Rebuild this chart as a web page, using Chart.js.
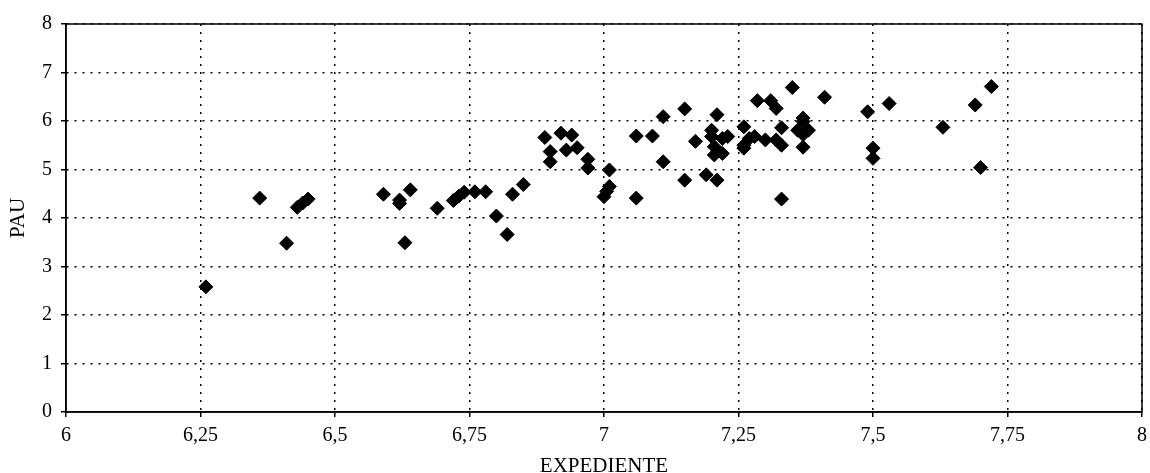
<!DOCTYPE html>
<html lang="es">
<head>
<meta charset="utf-8">
<title>PAU frente a EXPEDIENTE</title>
<script src="https://cdn.jsdelivr.net/npm/chart.js@4.4.1/dist/chart.umd.min.js"></script>
<style>
    body { margin: 0; background: #fff; }
    #contenedor { width: 1150px; height: 473px; }
</style>
</head>
<body>
<div id="contenedor"><canvas id="grafico"></canvas></div>
<script>
        // ============ DATOS ============
        const expediente = [
            6.26, 6.36, 6.41, 6.43, 6.44, 6.45, 6.59, 6.62, 6.62, 6.63,
            6.64, 6.69, 6.72, 6.73, 6.74, 6.76, 6.78, 6.80, 6.82, 6.83,
            6.85, 6.89, 6.90, 6.90, 6.92, 6.94, 6.93, 6.95, 6.97, 6.97,
            7.01, 7.01, 7.005, 7.00, 7.06, 7.09, 7.11, 7.06, 7.11, 7.15,
            7.15, 7.17, 7.19, 7.21, 7.21, 7.20, 7.20, 7.22, 7.23, 7.205,
            7.205, 7.22, 7.26, 7.26, 7.27, 7.28, 7.30, 7.32, 7.33, 7.26,
            7.285, 7.31, 7.32, 7.33, 7.33, 7.35, 7.37, 7.37, 7.36, 7.38,
            7.37, 7.37, 7.41, 7.49, 7.53, 7.50, 7.50, 7.63, 7.69, 7.72,
            7.70
        ];
        const pau = [
            2.58, 4.41, 3.48, 4.22, 4.31, 4.39, 4.49, 4.37, 4.30, 3.49,
            4.58, 4.20, 4.36, 4.45, 4.53, 4.54, 4.54, 4.04, 3.66, 4.49,
            4.69, 5.66, 5.37, 5.16, 5.75, 5.71, 5.40, 5.45, 5.21, 5.03,
            4.99, 4.65, 4.55, 4.44, 5.69, 5.69, 6.09, 4.41, 5.16, 6.25,
            4.78, 5.58, 4.89, 4.78, 6.13, 5.81, 5.68, 5.64, 5.68, 5.47,
            5.30, 5.33, 5.88, 5.50, 5.64, 5.68, 5.61, 5.61, 5.50, 5.44,
            6.42, 6.42, 6.26, 5.86, 4.39, 6.69, 6.06, 5.99, 5.81, 5.81,
            5.46, 5.72, 6.49, 6.19, 6.36, 5.44, 5.23, 5.87, 6.33, 6.71,
            5.04
        ];
        const ticksX = [6, 6.25, 6.5, 6.75, 7, 7.25, 7.5, 7.75, 8];
        const ticksY = [0, 1, 2, 3, 4, 5, 6, 7, 8];

        const puntos = expediente.map((x, i) => ({ x: x, y: pau[i] }));

        // decimales con coma
        const conComa = v => String(v).replace('.', ',');

        // marco solido alrededor del area
        const marco = {
            id: 'marco',
            afterDraw(chart) {
                const a = chart.chartArea;
                const ctx = chart.ctx;
                ctx.save();
                ctx.strokeStyle = '#000';
                ctx.lineWidth = 1.5;
                ctx.strokeRect(a.left, a.top, a.right - a.left, a.bottom - a.top);
                ctx.restore();
            }
        };

        const fuente = { family: '"Liberation Serif", "Times New Roman", serif', size: 20 };
        const rejilla = { color: '#000', lineWidth: 1.5, tickLength: 5, tickBorderDash: [] };

        // ============ GRAFICO ============
        const ctx = document.getElementById('grafico').getContext('2d');
        const chart = new Chart(ctx, {
            type: 'scatter',
            data: {
                datasets: [{
                    label: 'PAU',
                    data: puntos,
                    pointStyle: 'rectRot',
                    pointRadius: 7,
                    backgroundColor: '#000',
                    borderColor: '#000',
                    borderWidth: 1
                }]
            },
            options: {
                responsive: true,
                maintainAspectRatio: false,
                animation: false,
                layout: { padding: { top: 24, right: 7, left: 0, bottom: 0 } },
                plugins: {
                    legend: { display: false },
                    tooltip: { enabled: false }
                },
                scales: {
                    x: {
                        type: 'linear',
                        min: 6,
                        max: 8,
                        afterBuildTicks: axis => { axis.ticks = ticksX.map(v => ({ value: v })); },
                        afterFit: axis => {
                            axis.height = 61;
                            axis.paddingRight = 0;
                            axis.paddingLeft = 0;
                        },
                        grid: rejilla,
                        border: { color: '#000', width: 1.5, dash: [2, 6] },
                        ticks: {
                            color: '#000',
                            font: fuente,
                            padding: 7,
                            maxRotation: 0,
                            callback: v => conComa(v)
                        },
                        title: {
                            display: true,
                            text: 'EXPEDIENTE',
                            color: '#000',
                            font: { family: fuente.family, size: 21, lineHeight: 1 },
                            padding: { top: 0, bottom: -4 }
                        }
                    },
                    y: {
                        type: 'linear',
                        min: 0,
                        max: 8,
                        afterBuildTicks: axis => { axis.ticks = ticksY.map(v => ({ value: v })); },
                        afterFit: axis => { axis.width = 66; },
                        grid: rejilla,
                        border: { color: '#000', width: 1.5, dash: [2, 6] },
                        ticks: {
                            color: '#000',
                            font: fuente,
                            padding: 9,
                            callback: v => conComa(v)
                        },
                        title: {
                            display: true,
                            text: 'PAU',
                            color: '#000',
                            font: { family: fuente.family, size: 21, lineHeight: 1 },
                            padding: { top: 8, bottom: 0 }
                        }
                    }
                }
            },
            plugins: [marco]
        });
</script>
</body>
</html>
